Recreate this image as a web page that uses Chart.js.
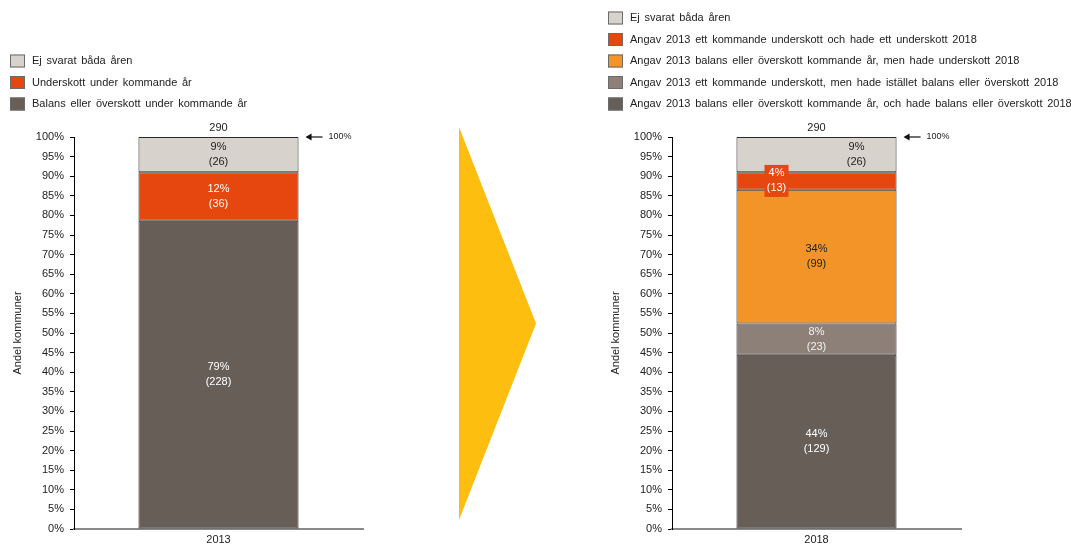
<!DOCTYPE html>
<html>
<head>
<meta charset="utf-8">
<script src="https://cdn.jsdelivr.net/npm/chart.js@4.4.0/dist/chart.umd.min.js"></script>
<style>
  html, body { margin: 0; padding: 0; background: #fff; }
  body { width: 1071px; height: 546px; position: relative; overflow: hidden; }
  .panel { position: absolute; top: 0; height: 546px; }
  #leftPanel { left: 0; width: 420px; }
  #rightPanel { left: 598px; width: 473px; }
  #shift {
    position: absolute; left: 459px; top: 127px; width: 77px; height: 393px;
    background: #fdbe10; clip-path: polygon(0 0, 100% 50%, 0 100%);
  }
</style>
</head>
<body>
<div class="panel" id="leftPanel"><canvas id="chart2013" width="420" height="546"></canvas></div>
<div id="shift"></div>
<div class="panel" id="rightPanel"><canvas id="chart2018" width="473" height="546"></canvas></div>
<script>
const total = 290;

const year2013 = ['2013'];
const groups2013 = [
  'Balans eller överskott under kommande år',
  'Underskott under kommande år',
  'Ej svarat båda åren'
];
const counts2013 = [228, 36, 26];

const year2018 = ['2018'];
const groups2018 = [
  'Angav 2013 balans eller överskott kommande år, och hade balans eller överskott 2018',
  'Angav 2013 ett kommande underskott, men hade istället balans eller överskott 2018',
  'Angav 2013 balans eller överskott kommande år, men hade underskott 2018',
  'Angav 2013 ett kommande underskott och hade ett underskott 2018',
  'Ej svarat båda åren'
];
const counts2018 = [129, 23, 99, 13, 26];

const yTickStep = 5;

const FONT = '"Liberation Sans", Arial, sans-serif';
const colors = {
  dark: '#675e58',
  mid: '#8c8079',
  orange: '#f29428',
  red: '#e5470e',
  light: '#d8d2cc'
};

// legend, value labels, total and the 100% marker
const decorations = {
  id: 'decorations',
  afterDatasetsDraw(chart) {
    const ctx = chart.ctx;
    const sets = chart.data.datasets;
    ctx.save();
    ctx.font = '11px ' + FONT;
    ctx.textBaseline = 'middle';

    // legend, top segment first
    ctx.wordSpacing = '1.7px';
    sets.forEach((ds, i) => {
      const y = 104 - i * 21.5;
      ctx.fillStyle = ds.backgroundColor;
      ctx.fillRect(10, y - 6.5, 15, 13);
      ctx.strokeStyle = '#6b6b6b';
      ctx.lineWidth = 1;
      ctx.strokeRect(10.5, y - 6, 14, 12);
      ctx.fillStyle = '#222';
      ctx.textAlign = 'left';
      ctx.fillText(ds.label, 32, y);
    });
    ctx.wordSpacing = '0px';

    // value labels in the segments
    ctx.textAlign = 'center';
    sets.forEach((ds, i) => {
      const bar = chart.getDatasetMeta(i).data[0];
      const count = ds.counts[0];
      const x = bar.x + (ds.labelDx || 0);
      const yMid = (bar.y + bar.base) / 2;
      if (ds.labelBg) {
        ctx.fillStyle = ds.labelBg;
        ctx.fillRect(x - 12, yMid - 16, 24, 32);
      }
      ctx.fillStyle = ds.labelColor;
      ctx.fillText(Math.round(count / total * 100) + '%', x, yMid - 7.5);
      ctx.fillText('(' + count + ')', x, yMid + 7.5);
    });

    // total above the bar
    const topBar = chart.getDatasetMeta(sets.length - 1).data[0];
    ctx.fillStyle = '#222';
    ctx.fillText(String(total), topBar.x, topBar.y - 9);

    // arrow pointing at the 100% level
    const right = topBar.x + topBar.width / 2;
    const y = chart.scales.y.getPixelForValue(100);
    ctx.strokeStyle = '#111';
    ctx.lineWidth = 1.2;
    ctx.beginPath();
    ctx.moveTo(right + 11, y);
    ctx.lineTo(right + 24, y);
    ctx.stroke();
    ctx.fillStyle = '#111';
    ctx.beginPath();
    ctx.moveTo(right + 7, y);
    ctx.lineTo(right + 13, y - 3.5);
    ctx.lineTo(right + 13, y + 3.5);
    ctx.closePath();
    ctx.fill();
    ctx.font = '9px ' + FONT;
    ctx.textAlign = 'left';
    ctx.fillStyle = '#222';
    ctx.fillText('100%', right + 30, y);
    ctx.restore();
  }
};

function makeDataset(label, count, color, extra) {
  return Object.assign({
    label: label,
    data: [count / total * 100],
    counts: [count],
    backgroundColor: color,
    borderColor: '#2e2a27',
    borderWidth: 1,
    borderSkipped: false,
    barPercentage: 0.554,
    categoryPercentage: 1,
    labelColor: '#fff'
  }, extra || {});
}

function makeChart(canvasId, labels, datasets) {
  const canvas = document.getElementById(canvasId);
  return new Chart(canvas, {
    type: 'bar',
    data: { labels: labels, datasets: datasets },
    options: {
      responsive: false,
      animation: false,
      // plot area spans x 74..363 and y 137..529 in each canvas
      layout: { padding: { top: 137, right: canvas.width - 363, left: 0, bottom: 0 } },
      plugins: { legend: { display: false }, tooltip: { enabled: false } },
      scales: {
        x: {
          stacked: true,
          grid: { drawOnChartArea: false, drawTicks: false },
          border: { color: '#8a8a8a', width: 2 },
          ticks: { color: '#222', font: { size: 11, family: FONT }, padding: 4 },
          afterFit(scale) { scale.height = 17; }
        },
        y: {
          stacked: true,
          min: 0,
          max: 100,
          ticks: {
            stepSize: yTickStep,
            color: '#222',
            font: { size: 11, family: FONT },
            padding: 6,
            callback: v => v + '%'
          },
          grid: { drawOnChartArea: false, drawTicks: true, tickLength: 4, tickColor: '#000' },
          border: { color: '#000', width: 1 },
          title: {
            display: true,
            text: 'Andel kommuner',
            color: '#222',
            font: { size: 11, family: FONT },
            padding: { top: 11, bottom: 0 }
          },
          afterFit(scale) { scale.width = 74; }
        }
      }
    },
    plugins: [decorations]
  });
}

makeChart('chart2013', year2013, [
  makeDataset(groups2013[0], counts2013[0], colors.dark),
  makeDataset(groups2013[1], counts2013[1], colors.red),
  makeDataset(groups2013[2], counts2013[2], colors.light, { labelColor: '#222' })
]);

makeChart('chart2018', year2018, [
  makeDataset(groups2018[0], counts2018[0], colors.dark),
  makeDataset(groups2018[1], counts2018[1], colors.mid, { labelColor: '#f2f2f2' }),
  makeDataset(groups2018[2], counts2018[2], colors.orange, { labelColor: '#222' }),
  makeDataset(groups2018[3], counts2018[3], colors.red, { labelDx: -40, labelBg: colors.red }),
  makeDataset(groups2018[4], counts2018[4], colors.light, { labelColor: '#222', labelDx: 40 })
]);
</script>
</body>
</html>
